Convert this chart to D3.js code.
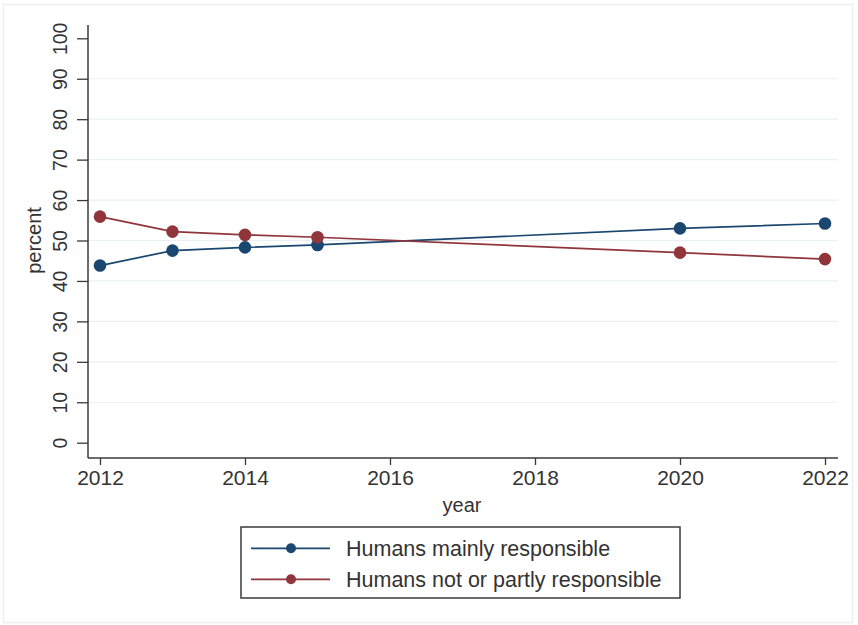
<!DOCTYPE html>
<html lang="en">
<head>
    <meta charset="UTF-8">
    <title>Humans responsible for climate change</title>
    <script src="https://d3js.org/d3.v7.min.js"></script>
    <style>
        body { margin: 0; background: #fff; }
        svg { display: block; font-family: "Liberation Sans", Arial, sans-serif; }
    </style>
</head>
<body>
    <div id="chart"></div>
    <script>
        const years = [2012, 2013, 2014, 2015, 2020, 2022];
        const mainly = [43.8, 47.5, 48.3, 48.9, 53.0, 54.2];
        const notPartly = [55.9, 52.2, 51.4, 50.8, 47.0, 45.4];
        const yTicks = [0, 10, 20, 30, 40, 50, 60, 70, 80, 90, 100];
        const xTicks = [2012, 2014, 2016, 2018, 2020, 2022];
        const seriesNames = ["Humans mainly responsible", "Humans not or partly responsible"];
        const seriesColors = ["#1a476f", "#90353b"];

        const width = 858;
        const height = 625;

        const x = d3.scaleLinear().domain([2012, 2022]).range([100, 825]);
        const y = d3.scaleLinear().domain([0, 100]).range([442.7, 38.3]);

        const svg = d3.select("#chart").append("svg")
            .attr("width", width)
            .attr("height", height)
            .attr("viewBox", [0, 0, width, height]);

        // faint outer frame
        svg.append("rect")
            .attr("x", 3.5).attr("y", 4.5)
            .attr("width", 849).attr("height", 618)
            .attr("fill", "#fff")
            .attr("stroke", "#efefef")
            .attr("stroke-width", 1.5);

        // grid
        svg.append("g")
            .selectAll("line")
            .data(yTicks.filter(d => d > 0 && d < 100))
            .join("line")
            .attr("x1", 88).attr("x2", 838)
            .attr("y1", d => y(d)).attr("y2", d => y(d))
            .attr("stroke", "#eaf0f2")
            .attr("stroke-width", 1.2);

        // y axis
        const yAxis = svg.append("g")
            .attr("transform", "translate(88,0)")
            .call(d3.axisLeft(y).tickValues(yTicks).tickSize(11).tickPadding(0).tickFormat(d3.format("d")));
        yAxis.select(".domain").attr("d", "M0,25V458").attr("stroke", "#3a3a3a").attr("stroke-width", 1.5);
        yAxis.selectAll(".tick line").attr("stroke", "#3a3a3a").attr("stroke-width", 1.3);
        yAxis.selectAll(".tick text")
            .attr("x", null).attr("dy", null)
            .attr("text-anchor", "middle")
            .attr("transform", "translate(-21,0) rotate(-90)")
            .attr("font-size", 19.5)
            .attr("fill", "#333");

        // x axis
        const xAxis = svg.append("g")
            .attr("transform", "translate(0,458)")
            .call(d3.axisBottom(x).tickValues(xTicks).tickSize(7).tickPadding(5).tickFormat(d3.format("d")));
        xAxis.select(".domain").attr("d", "M88,0H838").attr("stroke", "#3a3a3a").attr("stroke-width", 1.5);
        xAxis.selectAll(".tick line").attr("stroke", "#3a3a3a").attr("stroke-width", 1.3);
        xAxis.selectAll(".tick text")
            .attr("font-size", 21)
            .attr("fill", "#333");

        // axis titles
        svg.append("text")
            .attr("transform", "translate(41,240.5) rotate(-90)")
            .attr("text-anchor", "middle")
            .attr("font-size", 20)
            .attr("fill", "#333")
            .text("percent");
        svg.append("text")
            .attr("x", 462).attr("y", 512)
            .attr("text-anchor", "middle")
            .attr("font-size", 20)
            .attr("fill", "#333")
            .text("year");

        // series
        const line = d3.line()
            .x((d, i) => x(years[i]))
            .y(d => y(d));

        [mainly, notPartly].forEach((vals, k) => {
            svg.append("path")
                .datum(vals)
                .attr("fill", "none")
                .attr("stroke", seriesColors[k])
                .attr("stroke-width", 1.7)
                .attr("d", line);
            svg.append("g")
                .selectAll("circle")
                .data(vals)
                .join("circle")
                .attr("cx", (d, i) => x(years[i]))
                .attr("cy", d => y(d))
                .attr("r", 6.3)
                .attr("fill", seriesColors[k]);
        });

        // legend
        const legend = svg.append("g");
        legend.append("rect")
            .attr("x", 241).attr("y", 527)
            .attr("width", 439).attr("height", 71)
            .attr("fill", "#fff")
            .attr("stroke", "#3a3a3a")
            .attr("stroke-width", 1.5);

        const rows = legend.selectAll("g.row")
            .data(seriesNames)
            .join("g")
            .attr("class", "row")
            .attr("transform", (d, i) => `translate(0,${548.3 + i * 31})`);
        rows.append("line")
            .attr("x1", 251).attr("x2", 330)
            .attr("stroke", (d, i) => seriesColors[i])
            .attr("stroke-width", 1.7);
        rows.append("circle")
            .attr("cx", 291).attr("r", 5)
            .attr("fill", (d, i) => seriesColors[i]);
        rows.append("text")
            .attr("x", 346).attr("y", 7.5)
            .attr("font-size", 21.5)
            .attr("fill", "#333")
            .text(d => d);
    </script>
</body>
</html>
